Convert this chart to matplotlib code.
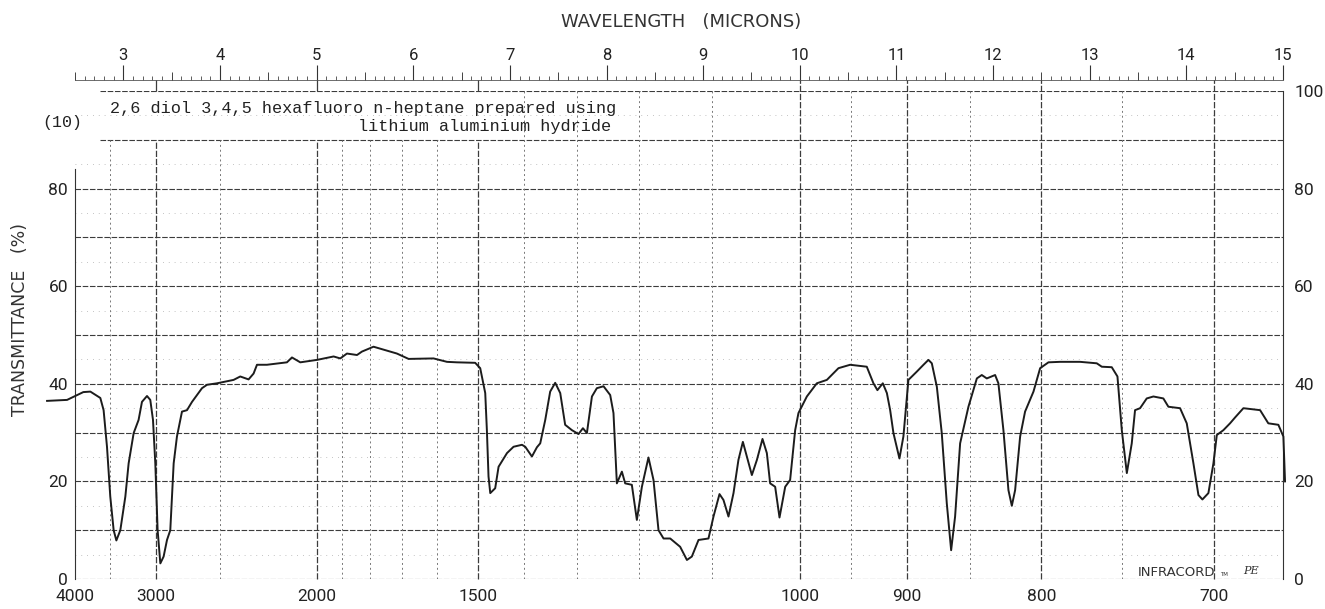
import matplotlib.pyplot as plt
import numpy as np

# Infracord trace, wavelength in microns and % transmittance
wavelength = [
    2.211, 2.418, 2.586, 2.659, 2.762, 2.796, 2.831, 2.865, 2.900, 2.928,
    2.969, 3.021, 3.055, 3.107, 3.158, 3.193, 3.245, 3.279, 3.307, 3.331,
    3.355, 3.383, 3.417, 3.452, 3.486, 3.521, 3.555, 3.607, 3.659, 3.711,
    3.762, 3.814, 3.866, 3.969, 4.141, 4.210, 4.296, 4.348, 4.383, 4.486,
    4.693, 4.745, 4.831, 5.004, 5.176, 5.245, 5.314, 5.418, 5.469, 5.589,
    5.728, 5.831, 5.952, 6.210, 6.349, 6.452, 6.641, 6.693, 6.745, 6.762,
    6.779, 6.797, 6.848, 6.883, 6.970, 7.038, 7.125, 7.159, 7.228, 7.280,
    7.314, 7.366, 7.417, 7.469, 7.521, 7.572, 7.642, 7.710, 7.756, 7.797,
    7.849, 7.900, 7.969, 8.038, 8.072, 8.107, 8.159, 8.193, 8.262, 8.314,
    8.366, 8.434, 8.486, 8.538, 8.590, 8.659, 8.762, 8.832, 8.883, 8.952,
    9.055, 9.107, 9.169, 9.210, 9.262, 9.314, 9.365, 9.411, 9.452, 9.504,
    9.556, 9.614, 9.659, 9.693, 9.745, 9.790, 9.849, 9.900, 9.952, 9.986,
    10.073, 10.176, 10.280, 10.400, 10.521, 10.693, 10.762, 10.803, 10.859, 10.901,
    10.935, 10.969, 11.031, 11.072, 11.124, 11.211, 11.280, 11.331, 11.366, 11.418,
    11.469, 11.521, 11.566, 11.607, 11.659, 11.745, 11.832, 11.883, 11.935, 12.021,
    12.055, 12.107, 12.159, 12.194, 12.228, 12.280, 12.331, 12.418, 12.487, 12.573,
    12.693, 12.900, 13.073, 13.125, 13.228, 13.287, 13.332, 13.384, 13.435, 13.469,
    13.521, 13.590, 13.659, 13.762, 13.814, 13.935, 14.004, 14.073, 14.125, 14.166,
    14.228, 14.280, 14.315, 14.383, 14.452, 14.504, 14.590, 14.763, 14.848, 14.952,
    15.004, 15.021,
]
transmittance = [
    36.5, 36.7, 38.3, 38.4, 37.1, 34.6, 27.1, 16.9, 10.0, 7.9,
    10.0, 16.9, 23.7, 29.9, 32.6, 36.3, 37.5, 36.7, 32.6, 23.7,
    10.0, 3.2, 4.6, 8.0, 10.0, 23.7, 29.2, 34.3, 34.6, 36.3,
    37.7, 39.1, 39.8, 40.1, 40.8, 41.5, 40.9, 42.1, 43.9, 43.9,
    44.4, 45.4, 44.4, 44.9, 45.6, 45.2, 46.2, 45.9, 46.6, 47.6,
    46.8, 46.2, 45.1, 45.2, 44.5, 44.4, 44.3, 43.2, 38.1, 30.5,
    21.0, 17.6, 18.6, 23.0, 25.8, 27.1, 27.5, 27.1, 25.1, 27.0,
    27.8, 32.6, 38.4, 40.2, 38.1, 31.6, 30.5, 29.7, 30.9, 29.9,
    37.4, 39.1, 39.5, 37.7, 34.0, 19.6, 22.0, 19.6, 19.3, 12.1,
    18.9, 24.9, 20.3, 10.0, 8.3, 8.3, 6.6, 3.9, 4.6, 8.0,
    8.3, 12.8, 17.4, 16.2, 12.8, 17.6, 24.4, 28.1, 25.1, 21.3,
    24.4, 28.7, 25.8, 19.6, 18.9, 12.6, 18.9, 20.3, 30.5, 34.0,
    37.4, 40.1, 40.8, 43.2, 43.9, 43.5, 40.1, 38.7, 40.1, 38.1,
    34.6, 29.9, 24.7, 29.2, 40.8, 42.5, 43.9, 44.9, 44.2, 39.4,
    29.9, 15.5, 5.9, 12.8, 27.8, 35.3, 41.1, 41.8, 41.1, 41.8,
    40.1, 30.5, 18.2, 15.0, 18.2, 29.2, 34.3, 38.4, 43.2, 44.4,
    44.5, 44.5, 44.2, 43.5, 43.4, 41.5, 30.5, 21.7, 27.8, 34.6,
    35.0, 37.0, 37.4, 37.0, 35.3, 35.0, 31.9, 23.7, 17.2, 16.3,
    17.6, 23.7, 29.5, 30.5, 31.9, 33.1, 35.0, 34.6, 31.9, 31.6,
    29.2, 20.0,
]

# chart paper rulings, in wavenumbers (cm-1)
wn_major = [4000, 3000, 2000, 1500, 1000, 900, 800, 700]
wn_minor = [3500, 2500, 1900, 1800, 1700, 1600, 1400, 1300, 1200, 1100, 950, 850, 750]
micron_labels = list(range(3, 16))
left_ticks = [0, 20, 40, 60, 80]
right_ticks = [0, 20, 40, 60, 80, 100]

W, H = 1325, 609
fig = plt.figure(figsize=(W / 100, H / 100), dpi=100)
ax = fig.add_axes([75 / W, (H - 579) / H, (1283 - 75) / W, (579 - 91) / H])
ax.set_xlim(2.5, 15.0)
ax.set_ylim(0, 100)

grid_dark = "#3c3c3c"
label_font = "Roboto"

# horizontal rulings
for t in range(0, 101, 10):
    x0 = 2.76 if t >= 90 else 2.5
    ax.hlines(t, x0, 15.0, color=grid_dark, lw=0.8, ls=(0, (5, 1.5)), zorder=1)
for t in range(5, 100, 10):
    ax.hlines(t, 2.5, 15.0, color="#b0b0b0", lw=0.6, ls=(0, (1, 6)), zorder=1)

# vertical rulings; the band holding the typed note is left open above 1500
for w in wn_major[1:]:
    top = 90 if w >= 1500 else 102.3
    ax.vlines(1e4 / w, 0, top, color=grid_dark, lw=0.9, ls=(0, (5, 1.5)),
              zorder=1, clip_on=False)
    if w >= 1500:
        ax.vlines(1e4 / w, 100, 102.3, color=grid_dark, lw=0.9, zorder=1, clip_on=False)
for w in wn_minor:
    top = 90 if w >= 1500 else 100
    ax.vlines(1e4 / w, 0, top, color="#777777", lw=0.7, ls=(0, (2, 3)), zorder=1)

ax.plot(wavelength, transmittance, color="#1c1c1c", lw=1.4, zorder=3, clip_on=False)

for side in ["top", "bottom"]:
    ax.spines[side].set_visible(False)
ax.spines["left"].set_bounds(0, 84)
ax.spines["left"].set_color("#333333")
ax.spines["right"].set_color("#333333")

# bottom wavenumber labels
ax.set_xticks([1e4 / w for w in wn_major])
ax.set_xticklabels([str(w) for w in wn_major], family=label_font)
ax.tick_params(axis="x", length=0, pad=7, labelsize=12.5, labelcolor="#222222")
ax.set_yticks(left_ticks)
ax.set_yticklabels([str(t) for t in left_ticks], family=label_font)
ax.tick_params(axis="y", length=0, pad=5, labelsize=12.5, labelcolor="#222222")

right = ax.secondary_yaxis("right")
right.set_yticks(right_ticks)
right.set_yticklabels([str(t) for t in right_ticks], family=label_font)
right.tick_params(length=0, pad=8, labelsize=12.5, labelcolor="#222222")
right.spines["right"].set_visible(False)

# wavelength ruler along the top
ruler = ax.secondary_xaxis(1.0 + 11 / 488)
ruler.set_xticks(micron_labels)
ruler.set_xticklabels([str(m) for m in micron_labels], family=label_font)
ruler.set_xticks(np.arange(2.5, 15.001, 0.1), minor=True)
ruler.tick_params(which="major", direction="out", length=11, width=0.8, pad=1,
                  labelsize=12, color="#333333", labelcolor="#222222")
ruler.tick_params(which="minor", direction="out", length=3, width=0.6, color="#444444")
ruler.spines["top"].set_linewidth(0.6)
ruler.spines["top"].set_color("#555555")

halves = ax.secondary_xaxis(1.0 + 11 / 488)
halves.set_xticks(np.arange(2.5, 15.0, 1.0))
halves.tick_params(direction="out", length=6, width=0.7, labelsize=0,
                   labeltop=False, color="#444444")
halves.spines["top"].set_visible(False)

fig.text(681 / W, 1 - 22 / H, "WAVELENGTH   (MICRONS)", ha="center", va="center",
         fontsize=13, color="#333333")
fig.text(20 / W, 1 - 320 / H, "TRANSMITTANCE   (%)", ha="center", va="center",
         rotation=90, fontsize=12.5, color="#333333")

mono = "Liberation Mono"
fig.text(110 / W, 1 - 108 / H, "2,6 diol 3,4,5 hexafluoro n-heptane prepared using",
         ha="left", va="center", family=mono, fontsize=12.2, color="#222222")
fig.text(358 / W, 1 - 127 / H, "lithium aluminium hydride",
         ha="left", va="center", family=mono, fontsize=12.2, color="#222222")
fig.text(62 / W, 1 - 123 / H, "(10)", ha="center", va="center",
         family=mono, fontsize=12, color="#222222")

fig.text(1138 / W, 1 - 572 / H, "INFRACORD", ha="left", va="center",
         fontsize=9.5, color="#333333")
fig.text(1220 / W, 1 - 575 / H, "TM", ha="left", va="center",
         fontsize=4, color="#333333")
fig.text(1243 / W, 1 - 571 / H, "PE", ha="left", va="center",
         fontsize=8, style="italic", family="DejaVu Serif", color="#333333")

fig.savefig("out.png", dpi=100)
